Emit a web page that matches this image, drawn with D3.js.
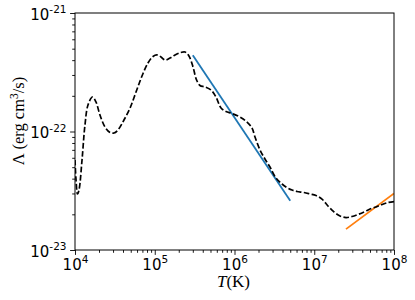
<!DOCTYPE html>
<html>
<head>
<meta charset="utf-8">
<script src="https://cdn.jsdelivr.net/npm/d3@7"></script>
<style>
  body { margin: 0; background: #fff; }
  svg { display: block; }
</style>
</head>
<body>
<svg id="chart" width="415" height="300"></svg>
<script>
// cooling curve (log10 T, log10 Lambda)
const logT = [4.000, 4.013, 4.031, 4.050, 4.088, 4.125, 4.163, 4.219, 4.263, 4.313, 4.376, 4.439,
  4.489, 4.539, 4.614, 4.690, 4.765, 4.840, 4.915, 4.978, 5.028, 5.078, 5.129, 5.191, 5.254,
  5.329, 5.379, 5.429, 5.480, 5.524, 5.567, 5.630, 5.705, 5.768, 5.831, 5.893, 5.969, 6.069,
  6.157, 6.219, 6.257, 6.320, 6.382, 6.445, 6.520, 6.596, 6.658, 6.721, 6.784, 6.871, 6.947,
  7.022, 7.097, 7.172, 7.248, 7.323, 7.398, 7.473, 7.549, 7.624, 7.699, 7.774, 7.850, 7.925, 8.000]
const logLambda = [-22.241, -22.409, -22.527, -22.494, -22.241, -21.945, -21.776, -21.709, -21.751,
  -21.861, -21.962, -22.008, -22.013, -21.987, -21.903, -21.802, -21.667, -21.532, -21.422,
  -21.367, -21.354, -21.371, -21.397, -21.380, -21.354, -21.333, -21.329, -21.363, -21.456,
  -21.565, -21.612, -21.624, -21.650, -21.709, -21.802, -21.831, -21.848, -21.878, -21.920,
  -21.970, -22.046, -22.156, -22.232, -22.300, -22.392, -22.443, -22.473, -22.494, -22.506,
  -22.515, -22.527, -22.540, -22.570, -22.629, -22.679, -22.713, -22.726, -22.717, -22.700,
  -22.679, -22.654, -22.637, -22.616, -22.599, -22.591]

// the two power-law fits
const fitHotT = [3e5, 5e6]
const fitHotLambda = [4.4e-22, 2.6e-23]
const fitBremT = [2.5e7, 1e8]
const fitBremLambda = [1.5e-23, 3.0e-23]

const xTicks = [1e4, 1e5, 1e6, 1e7, 1e8]
const xTickExp = ["4", "5", "6", "7", "8"]
const yTicks = [1e-23, 1e-22, 1e-21]
const yTickExp = ["-23", "-22", "-21"]

const mLeft = 75, mRight = 394, mTop = 13, mBottom = 250

const svg = d3.select("#chart")

const x = d3.scaleLog().domain([1e4, 1e8]).range([mLeft, mRight])
const y = d3.scaleLog().domain([1e-23, 1e-21]).range([mBottom, mTop])

const xMinor = x.ticks().filter(t => !xTicks.includes(t))
const yMinor = y.ticks().filter(t => !yTicks.some(v => Math.abs(v - t) / t < 1e-6))

const tickFont = "'DejaVu Sans', sans-serif"
const mathFont = "'Liberation Serif', 'DejaVu Serif', serif"

// minor ticks
svg.append("g")
    .attr("transform", `translate(0,${mBottom})`)
    .call(d3.axisBottom(x).tickValues(xMinor).tickSize(2.8).tickSizeOuter(0).tickFormat(""))
    .call(g => g.select(".domain").remove())
svg.append("g")
    .attr("transform", `translate(${mLeft},0)`)
    .call(d3.axisLeft(y).tickValues(yMinor).tickSize(2.8).tickSizeOuter(0).tickFormat(""))
    .call(g => g.select(".domain").remove())

// major ticks + labels
const gx = svg.append("g")
    .attr("transform", `translate(0,${mBottom})`)
    .call(d3.axisBottom(x).tickValues(xTicks).tickSize(4.9).tickSizeOuter(0))
gx.select(".domain").remove()
gx.selectAll(".tick text").each(function (d, i) {
    const t = d3.select(this).text("")
        .attr("y", 19.5).attr("dy", 0)
        .attr("font-family", tickFont).attr("font-size", 15).attr("fill", "#000")
    t.append("tspan").text("10")
    t.append("tspan").attr("dy", -6.5).attr("font-size", 10.5).text(xTickExp[i])
})

const gy = svg.append("g")
    .attr("transform", `translate(${mLeft},0)`)
    .call(d3.axisLeft(y).tickValues(yTicks).tickSize(4.9).tickSizeOuter(0))
gy.select(".domain").remove()
gy.selectAll(".tick text").each(function (d, i) {
    const t = d3.select(this).text("")
        .attr("x", -8.5).attr("dy", 6)
        .attr("font-family", tickFont).attr("font-size", 15).attr("fill", "#000")
    t.append("tspan").text("10")
    t.append("tspan").attr("dy", -6.5).attr("font-size", 10.5).text(yTickExp[i])
})
svg.selectAll(".tick line").attr("stroke", "#000").attr("stroke-width", 0.9)

// clip + curves
svg.append("clipPath").attr("id", "plot")
    .append("rect").attr("x", mLeft).attr("y", mTop).attr("width", mRight - mLeft).attr("height", mBottom - mTop)

const lineLog = d3.line()
    .x(d => x(Math.pow(10, d[0])))
    .y(d => y(Math.pow(10, d[1])))
    .curve(d3.curveCatmullRom)
const lineLin = d3.line()
    .x(d => x(d[0]))
    .y(d => y(d[1]))

const plot = svg.append("g").attr("clip-path", "url(#plot)")

plot.append("path")
    .datum(d3.zip(fitHotT, fitHotLambda))
    .attr("d", lineLin)
    .attr("fill", "none")
    .attr("stroke", "#1f77b4")
    .attr("stroke-width", 1.8)

plot.append("path")
    .datum(d3.zip(fitBremT, fitBremLambda))
    .attr("d", lineLin)
    .attr("fill", "none")
    .attr("stroke", "#ff7f0e")
    .attr("stroke-width", 1.8)

plot.append("path")
    .datum(d3.zip(logT, logLambda))
    .attr("d", lineLog)
    .attr("fill", "none")
    .attr("stroke", "#000")
    .attr("stroke-width", 1.7)
    .attr("stroke-dasharray", "5.6,2.4")

// frame
svg.append("rect")
    .attr("x", mLeft).attr("y", mTop)
    .attr("width", mRight - mLeft).attr("height", mBottom - mTop)
    .attr("fill", "none").attr("stroke", "#000").attr("stroke-width", 1)

// axis labels
const xl = svg.append("text")
    .attr("x", (mLeft + mRight) / 2 - 1).attr("y", 287)
    .attr("text-anchor", "middle")
    .attr("font-family", mathFont).attr("font-size", 17)
xl.append("tspan").attr("font-style", "italic").text("T")
xl.append("tspan").text("(K)")

const yl = svg.append("text")
    .attr("transform", "translate(24,121) rotate(-90)")
    .attr("text-anchor", "middle")
    .attr("font-family", mathFont).attr("font-size", 16.5)
yl.append("tspan").text("Λ (erg cm")
yl.append("tspan").attr("dy", -6.5).attr("font-size", 11.5).text("3")
yl.append("tspan").attr("dy", 6.5).text("/s)")
</script>
</body>
</html>
